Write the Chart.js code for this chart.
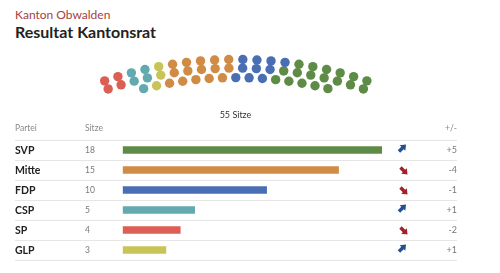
<!DOCTYPE html>
<html lang="de">
<head>
<meta charset="utf-8">
<script src="https://cdn.jsdelivr.net/npm/chart.js@4.4.1/dist/chart.umd.min.js"></script>
<style>
    body { margin: 0; background: #fff; font-family: Lato, sans-serif; }
    #wrap { position: relative; width: 500px; height: 273px; overflow: hidden; }
    .sub { position: absolute; left: 15px; top: 8px; font-size: 12px; line-height: 14px; color: #a8403f; }
    .title { position: absolute; left: 15px; top: 23px; font-size: 16px; line-height: 18px; font-weight: 700; color: #222; }
    .total { position: absolute; left: 0; width: 471px; top: 109px; text-align: center; font-size: 9px; line-height: 12px; color: #333; }
    #seatChart { position: absolute; left: 0; top: 40px; }
    #tableChart { position: absolute; left: 0; top: 120px; }
</style>
</head>
<body>
<div id="wrap">
    <div class="sub">Kanton Obwalden</div>
    <div class="title">Resultat Kantonsrat</div>
    <canvas id="seatChart" width="500" height="70"></canvas>
    <div class="total">55 Sitze</div>
    <canvas id="tableChart" width="500" height="153"></canvas>
</div>
<script>
// table order
const parties = ['SVP', 'Mitte', 'FDP', 'CSP', 'SP', 'GLP'];
const seats = [18, 15, 10, 5, 4, 3];
const change = [5, -4, -1, 1, -2, 1];
const partyColors = ['#5e8c47', '#d08b45', '#4a6eb4', '#62aab0', '#dc5f55', '#c8c457'];

// hemicycle, left to right, seats per row (outer, middle, inner)
const hemicycleOrder = ['SP', 'CSP', 'GLP', 'Mitte', 'FDP', 'SVP'];
const rowSeats = [[2, 2, 0], [2, 2, 1], [1, 1, 1], [5, 5, 5], [4, 3, 3], [6, 7, 5]];
const rowSize = [20, 20, 15];

const rowRadius = [373, 363, 352];
const angleStep = 2.21 * Math.PI / 180;

function colorOf(name) {
    return partyColors[parties.indexOf(name)];
}

// place the dots row by row, parties filled left to right
function buildSeatDatasets() {
    const sets = hemicycleOrder.map(name => ({
        label: name,
        data: [],
        backgroundColor: colorOf(name),
        borderWidth: 0,
        pointRadius: 4.7,
        pointHoverRadius: 4.7
    }));
    rowSize.forEach((n, r) => {
        let idx = 0;
        hemicycleOrder.forEach((name, p) => {
            for (let k = 0; k < rowSeats[p][r]; k++) {
                const a = (idx - (n - 1) / 2) * angleStep;
                sets[p].data.push({ x: rowRadius[r] * Math.sin(a), y: rowRadius[r] * Math.cos(a) });
                idx++;
            }
        });
    });
    return sets;
}

new Chart(document.getElementById('seatChart'), {
    type: 'scatter',
    data: { datasets: buildSeatDatasets() },
    options: {
        responsive: false,
        animation: false,
        events: [],
        layout: { padding: 0 },
        plugins: { legend: { display: false }, tooltip: { enabled: false } },
        scales: {
            x: { display: false, min: -235.5, max: 264.5 },
            y: { display: false, min: 320, max: 390 }
        }
    }
});

function drawArrow(ctx, x, y, up, color) {
    ctx.save();
    ctx.translate(x, y);
    ctx.rotate(up ? -Math.PI / 4 : Math.PI / 4);
    ctx.fillStyle = color;
    ctx.beginPath();
    ctx.moveTo(-5, -1.7);
    ctx.lineTo(0, -1.7);
    ctx.lineTo(0, -4);
    ctx.lineTo(5, 0);
    ctx.lineTo(0, 4);
    ctx.lineTo(0, 1.7);
    ctx.lineTo(-5, 1.7);
    ctx.closePath();
    ctx.fill();
    ctx.restore();
}

const tableText = {
    id: 'tableText',
    afterDraw(chart) {
        const ctx = chart.ctx;
        const yScale = chart.scales.y;
        ctx.save();

        // separators
        ctx.strokeStyle = '#e6e6e6';
        ctx.lineWidth = 1;
        for (let i = 0; i <= parties.length; i++) {
            const y = Math.round(yScale.getPixelForValue(i - 0.5)) + 0.5;
            ctx.beginPath();
            ctx.moveTo(15, y);
            ctx.lineTo(457, y);
            ctx.stroke();
        }

        // header
        ctx.textBaseline = 'middle';
        ctx.font = '8.5px Lato';
        ctx.fillStyle = '#888';
        ctx.textAlign = 'left';
        ctx.fillText('Partei', 15, 8.5);
        ctx.fillText('Sitze', 85, 8.5);
        ctx.textAlign = 'right';
        ctx.fillText('+/-', 457, 8.5);

        parties.forEach((name, i) => {
            const y = yScale.getPixelForValue(i);
            ctx.textAlign = 'left';
            ctx.font = 'bold 10.5px Lato';
            ctx.fillStyle = '#222';
            ctx.fillText(name, 15, y + 0.5);
            ctx.font = '8.5px Lato';
            ctx.fillStyle = '#777';
            ctx.fillText(String(seats[i]), 85, y + 0.5);
            const up = change[i] > 0;
            drawArrow(ctx, up ? 402.5 : 404, up ? y - 2 : y + 1, up, up ? '#24508f' : '#a3222a');
            ctx.textAlign = 'right';
            ctx.font = '9px Lato';
            ctx.fillStyle = '#777';
            ctx.fillText((change[i] > 0 ? '+' : '') + change[i], 457, y + 0.5);
        });
        ctx.restore();
    }
};

new Chart(document.getElementById('tableChart'), {
    type: 'bar',
    data: {
        labels: parties,
        datasets: [{
            data: seats,
            backgroundColor: partyColors,
            barThickness: 7,
            borderWidth: 0
        }]
    },
    options: {
        indexAxis: 'y',
        responsive: false,
        animation: false,
        events: [],
        layout: { padding: { left: 122.7, right: 89.5, top: 20, bottom: 13 } },
        plugins: { legend: { display: false }, tooltip: { enabled: false } },
        scales: {
            x: { display: false, min: 0, max: 20 },
            y: { display: false }
        }
    },
    plugins: [tableText]
});
</script>
</body>
</html>
